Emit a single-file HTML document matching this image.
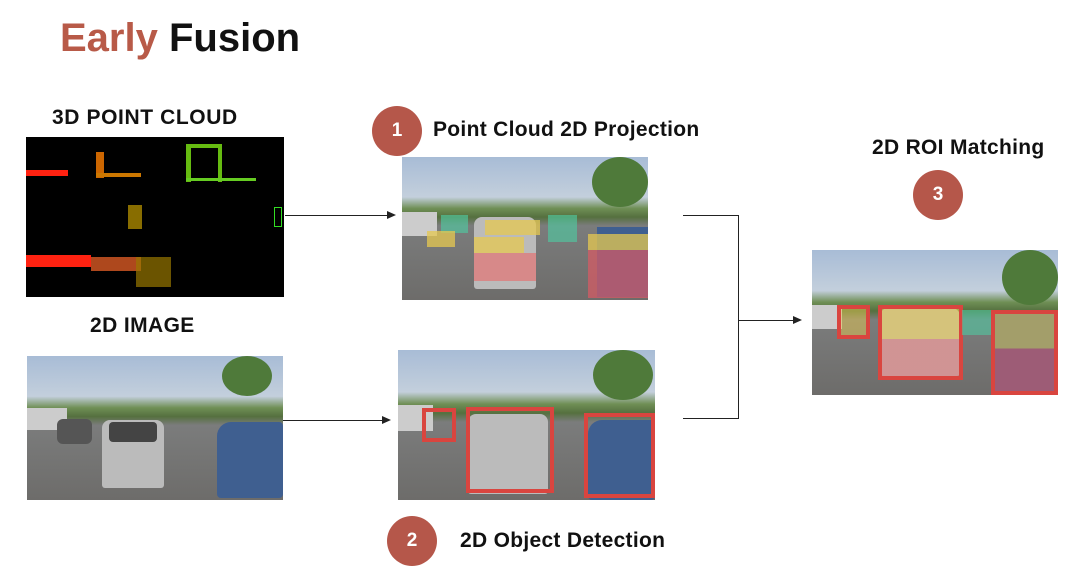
<!DOCTYPE html>
<html><head><meta charset="utf-8"><style>
body{margin:0;width:1080px;height:572px;background:#fff;position:relative;overflow:hidden;font-family:"Liberation Sans",sans-serif}
.a{position:absolute}
.t{position:absolute;font-weight:bold;color:#111;white-space:nowrap}
.c{position:absolute;width:50px;height:50px;border-radius:50%;background:#b5574a;color:#fff;font-weight:bold;font-size:19px;text-align:center;line-height:50px}
.ph{position:absolute;overflow:hidden;background:linear-gradient(to bottom,#a8bcd6 0%,#c3cfdc 28%,#6f8f55 36%,#55703f 42%,#7b7c7c 48%,#6d6c6a 100%)}
.ph i{position:absolute;display:block}
.pc i{position:absolute;display:block}
.ln{position:absolute;background:#222}
.ah{position:absolute;width:0;height:0;border-top:4px solid transparent;border-bottom:4px solid transparent;border-left:9px solid #222}
.s{font-size:21px;letter-spacing:0.4px}
</style></head><body>
<div class="t" style="left:60px;top:16px;font-size:40px"><span style="color:#b85a48">Early</span> Fusion</div>
<div class="t s" style="left:52px;top:106px;letter-spacing:0.6px">3D POINT CLOUD</div>
<div class="t s" style="left:90px;top:314px">2D IMAGE</div>
<div class="t s" style="left:433px;top:118px;letter-spacing:0.3px">Point Cloud 2D Projection</div>
<div class="t s" style="left:872px;top:136px;letter-spacing:0.3px">2D ROI Matching</div>
<div class="t s" style="left:460px;top:529px;letter-spacing:0.3px">2D Object Detection</div>
<div class="c" style="left:372px;top:106px">1</div>
<div class="c" style="left:387px;top:516px">2</div>
<div class="c" style="left:913px;top:170px">3</div>

<div class="a pc" style="left:26px;top:137px;width:258px;height:160px;background:#000">
<i style="left:0;top:33px;width:42px;height:6px;background:#f21"></i>
<i style="left:70px;top:15px;width:8px;height:26px;background:#c60"></i>
<i style="left:70px;top:36px;width:45px;height:4px;background:#c70"></i>
<i style="left:160px;top:7px;width:36px;height:4px;background:#6b1"></i>
<i style="left:160px;top:7px;width:5px;height:38px;background:#6b1"></i>
<i style="left:192px;top:7px;width:4px;height:38px;background:#6b1"></i>
<i style="left:160px;top:41px;width:70px;height:3px;background:#6c2"></i>
<i style="left:102px;top:68px;width:14px;height:24px;background:#a80;opacity:.8"></i>
<i style="left:248px;top:70px;width:6px;height:18px;border:1px solid #3d2"></i>
<i style="left:0;top:118px;width:65px;height:12px;background:#f21"></i>
<i style="left:65px;top:120px;width:50px;height:14px;background:#c52;opacity:.85"></i>
<i style="left:110px;top:120px;width:35px;height:30px;background:#970;opacity:.7"></i>
</div>

<div class="ph" style="left:27px;top:356px;width:256px;height:144px">
<i style="left:0;top:52px;width:40px;height:22px;background:#ccc"></i>
<i style="left:30px;top:63px;width:35px;height:25px;background:#555;border-radius:6px"></i>
<i style="left:75px;top:64px;width:62px;height:68px;background:#bbb;border-radius:8px 8px 3px 3px"></i>
<i style="left:82px;top:66px;width:48px;height:20px;background:#444;border-radius:4px"></i>
<i style="left:190px;top:66px;width:66px;height:76px;background:#3f5f90;border-radius:14px 4px 4px 4px"></i>
<i style="left:195px;top:0;width:50px;height:40px;background:#4f7a3a;border-radius:50%"></i>
</div>

<div class="ph" style="left:402px;top:157px;width:246px;height:143px">
<i style="left:0;top:55px;width:35px;height:24px;background:#ccc"></i>
<i style="left:72px;top:60px;width:62px;height:72px;background:#bbb;border-radius:8px 8px 3px 3px"></i>
<i style="left:190px;top:0;width:56px;height:50px;background:#4f7a3a;border-radius:50%"></i>
<i style="left:195px;top:70px;width:51px;height:70px;background:#3f5f90"></i>
<i style="left:39px;top:58px;width:27px;height:18px;background:rgba(80,200,160,.65)"></i>
<i style="left:25px;top:74px;width:28px;height:16px;background:rgba(230,200,80,.75)"></i>
<i style="left:83px;top:63px;width:55px;height:15px;background:rgba(230,200,80,.75)"></i>
<i style="left:72px;top:80px;width:50px;height:16px;background:rgba(230,200,80,.75)"></i>
<i style="left:72px;top:96px;width:62px;height:28px;background:rgba(230,110,110,.65)"></i>
<i style="left:146px;top:58px;width:29px;height:27px;background:rgba(80,200,160,.65)"></i>
<i style="left:186px;top:77px;width:60px;height:16px;background:rgba(230,200,80,.75)"></i>
<i style="left:186px;top:93px;width:60px;height:48px;background:rgba(220,90,100,.7)"></i>
</div>

<div class="ph" style="left:398px;top:350px;width:257px;height:150px">
<i style="left:0;top:55px;width:35px;height:26px;background:#ccc"></i>
<i style="left:70px;top:64px;width:80px;height:80px;background:#bbb;border-radius:8px 8px 3px 3px"></i>
<i style="left:195px;top:0;width:60px;height:50px;background:#4f7a3a;border-radius:50%"></i>
<i style="left:190px;top:70px;width:67px;height:80px;background:#3f5f90;border-radius:14px 4px 4px 4px"></i>
<i style="left:24px;top:58px;width:34px;height:34px;border:4px solid #d9453f;box-sizing:border-box"></i>
<i style="left:68px;top:57px;width:88px;height:86px;border:4px solid #d9453f;box-sizing:border-box"></i>
<i style="left:186px;top:63px;width:71px;height:85px;border:4px solid #d9453f;box-sizing:border-box"></i>
</div>

<div class="ph" style="left:812px;top:250px;width:246px;height:145px">
<i style="left:0;top:55px;width:30px;height:24px;background:#ccc"></i>
<i style="left:68px;top:58px;width:80px;height:68px;background:#bbb;border-radius:8px 8px 3px 3px"></i>
<i style="left:190px;top:0;width:56px;height:55px;background:#4f7a3a;border-radius:50%"></i>
<i style="left:180px;top:62px;width:66px;height:80px;background:#3f5f90"></i>
<i style="left:25px;top:55px;width:33px;height:34px;border:4px solid #d9453f;background:rgba(230,200,80,.5);box-sizing:border-box"></i>
<i style="left:66px;top:55px;width:85px;height:75px;border:4px solid #d9453f;background:linear-gradient(rgba(230,200,80,.6) 45%,rgba(230,110,110,.5) 45%);box-sizing:border-box"></i>
<i style="left:150px;top:60px;width:30px;height:25px;background:rgba(80,200,160,.6)"></i>
<i style="left:179px;top:60px;width:67px;height:85px;border:4px solid #d9453f;background:linear-gradient(rgba(230,200,80,.6) 45%,rgba(220,90,100,.6) 45%);box-sizing:border-box"></i>
</div>

<div class="ln" style="left:285px;top:215px;width:103px;height:1px"></div>
<div class="ah" style="left:387px;top:211px"></div>
<div class="ln" style="left:283px;top:420px;width:100px;height:1px"></div>
<div class="ah" style="left:382px;top:416px"></div>
<div class="ln" style="left:683px;top:215px;width:55px;height:1px"></div>
<div class="ln" style="left:683px;top:418px;width:55px;height:1px"></div>
<div class="ln" style="left:738px;top:215px;width:1px;height:204px"></div>
<div class="ln" style="left:738px;top:320px;width:56px;height:1px"></div>
<div class="ah" style="left:793px;top:316px"></div>
</body></html>
